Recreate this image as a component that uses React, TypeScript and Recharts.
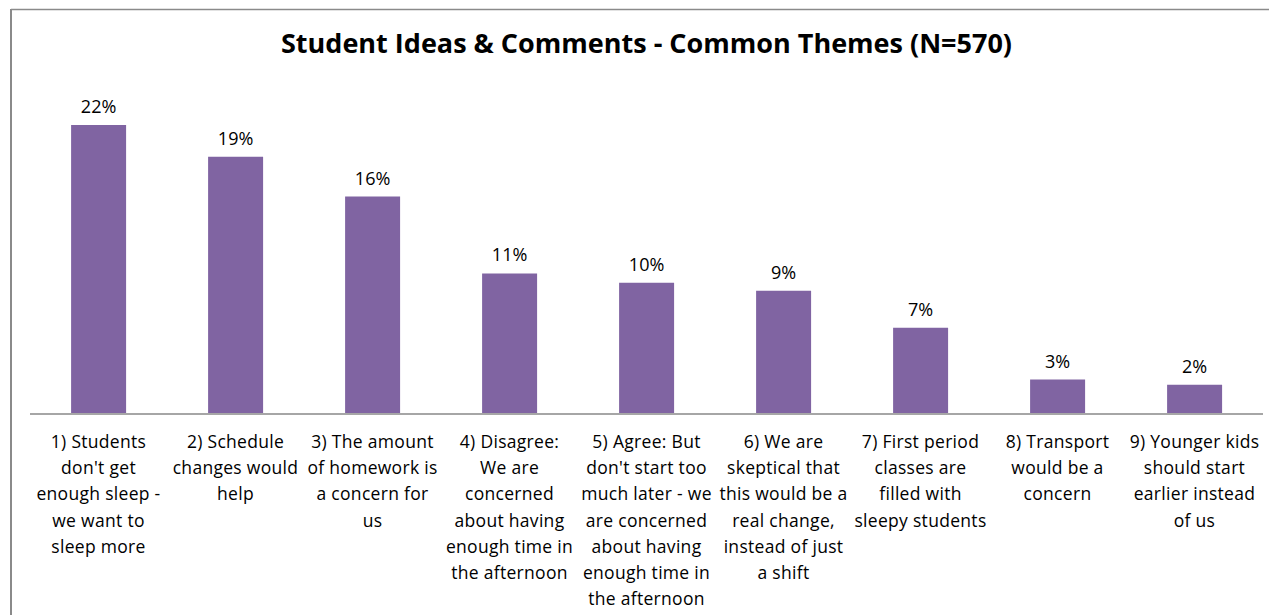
import React from 'react';
import { BarChart, Bar, XAxis, YAxis, LabelList } from 'recharts';

const categories = [
  '1) Students don\'t get enough sleep - we want to sleep more',
  '2) Schedule changes would help',
  '3) The amount of homework is a concern for us',
  '4) Disagree: We are concerned about having enough time in the afternoon',
  '5) Agree: But don\'t start too much later - we are concerned about having enough time in the afternoon',
  '6) We are skeptical that this would be a real change, instead of just a shift',
  '7) First period classes are filled with sleepy students',
  '8) Transport would be a concern',
  '9) Younger kids should start earlier instead of us',
];

const tickLines: string[][] = [
  ['1) Students', "don't get", 'enough sleep -', 'we want to', 'sleep more'],
  ['2) Schedule', 'changes would', 'help'],
  ['3) The amount', 'of homework is', 'a concern for', 'us'],
  ['4) Disagree:', 'We are', 'concerned', 'about having', 'enough time in', 'the afternoon'],
  ['5) Agree: But', "don't start too", 'much later - we', 'are concerned', 'about having', 'enough time in', 'the afternoon'],
  ['6) We are', 'skeptical that', 'this would be a', 'real change,', 'instead of just', 'a shift'],
  ['7) First period', 'classes are', 'filled with', 'sleepy students'],
  ['8) Transport', 'would be a', 'concern'],
  ['9) Younger kids', 'should start', 'earlier instead', 'of us'],
];

const percentValues = [21.8, 19.4, 16.4, 10.6, 9.9, 9.3, 6.5, 2.6, 2.2];

const title = 'Student Ideas & Comments - Common Themes (N=570)';

const data = categories.map((c, i) => ({ name: c, idx: i, value: percentValues[i] }));

const FONT = '"Open Sans", Lato, sans-serif';

const CategoryTick = (props: any) => {
  const { x, y, payload } = props;
  const lines = tickLines[payload.index] || [payload.value];
  return (
    <text x={x} y={y} textAnchor="middle" fontSize={17.5} letterSpacing={0.3} fill="#000" fontFamily={FONT}>
      {lines.map((l, i) => (
        <tspan key={i} x={x} dy={i === 0 ? 34 : 26.2}>
          {l}
        </tspan>
      ))}
    </text>
  );
};

export default function App() {
  return (
    <div style={{ position: 'absolute', left: 0, top: 0, width: 1269, height: 615, background: '#fff', overflow: 'hidden' }}>
      <svg width={1269} height={615} style={{ position: 'absolute', left: 0, top: 0 }}>
        <line x1={11} y1={9.5} x2={1269} y2={9.5} stroke="#8a8a8a" strokeWidth={1.5} />
        <line x1={11} y1={9} x2={11} y2={615} stroke="#8a8a8a" strokeWidth={2} />
      </svg>
      <div
        style={{
          position: 'absolute',
          left: 30,
          width: 1233,
          top: 23,
          textAlign: 'center',
          fontFamily: FONT,
          fontWeight: 700,
          fontSize: 27,
          color: '#000',
          lineHeight: '40px',
          whiteSpace: 'nowrap',
        }}
      >
        {title}
      </div>
      <div style={{ position: 'absolute', left: 0, top: 0, width: 1265, height: 615, overflow: 'hidden' }}>
        <BarChart
          width={1269}
          height={615}
          data={data}
          margin={{ top: 82.5, right: 6, bottom: 0, left: 30 }}
          barCategoryGap="30%"
        >
          <XAxis
            dataKey="name"
            interval={0}
            tickLine={false}
            tickSize={0}
            tickMargin={0}
            height={201}
            axisLine={{ stroke: '#a6a6a6', strokeWidth: 2 }}
            tick={<CategoryTick />}
          />
          <YAxis hide domain={[0, 25]} />
          <Bar dataKey="value" fill="#8064A2" isAnimationActive={false}>
            <LabelList
              dataKey="value"
              position="top"
              offset={12}
              formatter={(v: any) => `${Math.round(Number(v))}%`}
              style={{ fontSize: 18, fontFamily: FONT, fill: '#000' }}
            />
          </Bar>
        </BarChart>
      </div>
    </div>
  );
}
